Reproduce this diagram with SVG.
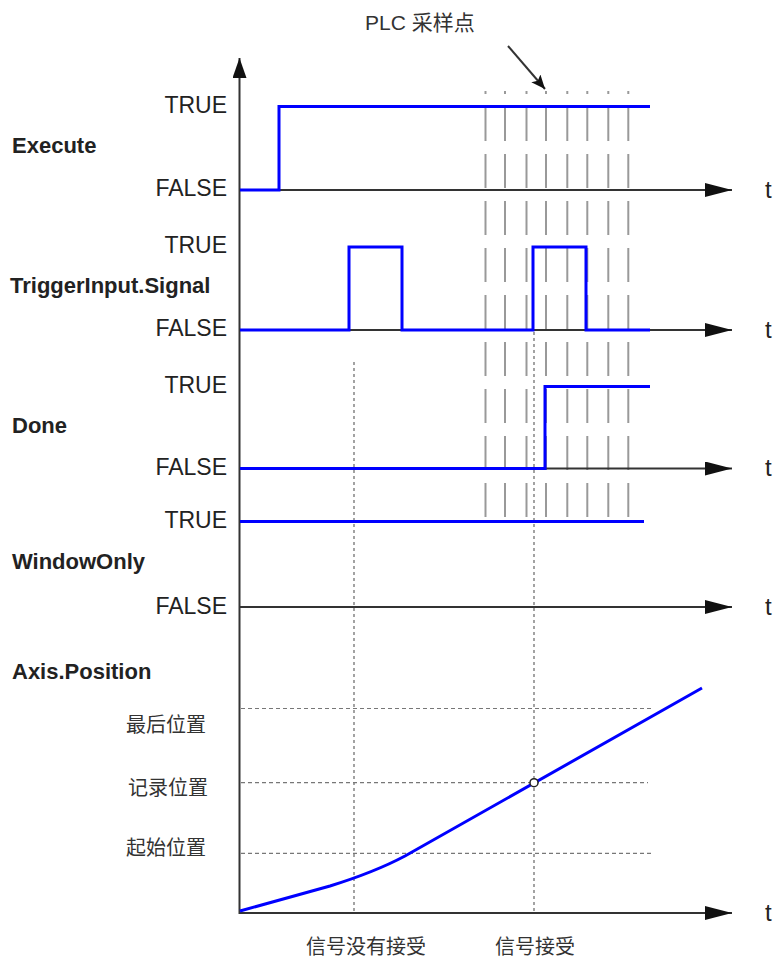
<svg xmlns="http://www.w3.org/2000/svg" width="776" height="960" viewBox="0 0 776 960">
<defs>
<marker id="ah" viewBox="0 0 27 14" refX="27" refY="7" markerWidth="27" markerHeight="14" markerUnits="userSpaceOnUse" orient="auto">
<path d="M0,0 L27,7 L0,14 Z" fill="#111"/>
</marker>
<marker id="ahv" viewBox="0 0 14 20" refX="7" refY="0" markerWidth="14" markerHeight="20" markerUnits="userSpaceOnUse" orient="0">
<path d="M7,0 L14,20 L0,20 Z" fill="#111"/>
</marker>
<marker id="ahs" viewBox="0 0 14 12" refX="14" refY="6" markerWidth="14" markerHeight="12" markerUnits="userSpaceOnUse" orient="auto">
<path d="M0,0 L14,6 L0,12 L3,6 Z" fill="#111"/>
</marker>
</defs>
<style>
.lv{font-family:"Liberation Sans",Arial,sans-serif;font-size:23px;fill:#222;text-anchor:end}
.nm{font-family:"Liberation Sans",Arial,sans-serif;font-size:22px;font-weight:bold;fill:#222}
.t{font-family:"Liberation Sans",Arial,sans-serif;font-size:24px;fill:#222}
.cj{font-family:"Liberation Sans","Noto Sans CJK SC",sans-serif;font-size:20px;fill:#333}
.ax{stroke:#333;stroke-width:2;fill:none}
.sig{stroke:#0000ff;stroke-width:3;fill:none;stroke-linejoin:miter}
.smp{stroke:#999;stroke-width:2;stroke-dasharray:34 13}
.dot{stroke:#999;stroke-width:2}
.vd{stroke:#666;stroke-width:1.2;stroke-dasharray:3 3}
.hd{stroke:#777;stroke-width:1.2;stroke-dasharray:4 3}
</style>
<rect width="776" height="960" fill="#fff"/>

<g id="plc-label">
<text x="365" y="30" font-family="Liberation Sans,'Noto Sans CJK SC',sans-serif" font-size="21" fill="#333">PLC 采样点</text>
</g>

<g id="sampling-points">
<g class="dot">
<line x1="485.5" y1="91" x2="485.5" y2="94"/><line x1="505" y1="91" x2="505" y2="94"/><line x1="526.5" y1="91" x2="526.5" y2="94"/><line x1="546" y1="91" x2="546" y2="94"/><line x1="567.3" y1="91" x2="567.3" y2="94"/><line x1="587.3" y1="91" x2="587.3" y2="94"/><line x1="608.3" y1="91" x2="608.3" y2="94"/><line x1="628.3" y1="91" x2="628.3" y2="94"/>
</g>
<g class="smp">
<line x1="485.5" y1="107" x2="485.5" y2="518"/><line x1="505" y1="107" x2="505" y2="518"/><line x1="526.5" y1="107" x2="526.5" y2="518"/><line x1="546" y1="107" x2="546" y2="518"/><line x1="567.3" y1="107" x2="567.3" y2="518"/><line x1="587.3" y1="107" x2="587.3" y2="518"/><line x1="608.3" y1="107" x2="608.3" y2="518"/><line x1="628.3" y1="107" x2="628.3" y2="518"/>
</g>
</g>

<g id="guides">
<line class="vd" x1="354" y1="362" x2="354" y2="912"/>
<line class="vd" x1="534" y1="332" x2="534" y2="912"/>
<line class="hd" x1="241" y1="708.5" x2="652" y2="708.5"/>
<line class="hd" x1="241" y1="782.7" x2="648" y2="782.7"/>
<line class="hd" x1="241" y1="853.3" x2="652" y2="853.3"/>
</g>

<g id="connectors">
<line class="ax" x1="239.5" y1="914" x2="239.5" y2="58" marker-end="url(#ahv)"/>
<line class="ax" x1="240" y1="190" x2="732" y2="190" marker-end="url(#ah)"/>
<line class="ax" x1="240" y1="330" x2="732" y2="330" marker-end="url(#ah)"/>
<line class="ax" x1="240" y1="468.5" x2="732" y2="468.5" marker-end="url(#ah)"/>
<line class="ax" x1="240" y1="607" x2="732" y2="607" marker-end="url(#ah)"/>
<line class="ax" x1="240" y1="913" x2="732" y2="913" marker-end="url(#ah)"/>
<line x1="508" y1="46" x2="545" y2="89" stroke="#333" stroke-width="2" marker-end="url(#ahs)"/>
</g>

<g id="execute">
<text class="nm" x="12" y="153">Execute</text>
<text class="lv" x="227" y="113">TRUE</text>
<text class="lv" x="227" y="196">FALSE</text>
<polyline class="sig" points="240,190 279,190 279,106.5 650,106.5"/>
<text class="t" x="765" y="198">t</text>
</g>

<g id="trigger">
<text class="nm" x="10" y="293">TriggerInput.Signal</text>
<text class="lv" x="227" y="253">TRUE</text>
<text class="lv" x="227" y="336">FALSE</text>
<polyline class="sig" points="240,330 349,330 349,247 402,247 402,330 533,330 533,247 586,247 586,330 650,330"/>
<text class="t" x="765" y="338">t</text>
</g>

<g id="done">
<text class="nm" x="12" y="433">Done</text>
<text class="lv" x="227" y="393">TRUE</text>
<text class="lv" x="227" y="475">FALSE</text>
<polyline class="sig" points="240,468.5 545,468.5 545,386.5 650,386.5"/>
<text class="t" x="765" y="476">t</text>
</g>

<g id="windowonly">
<text class="nm" x="12" y="569">WindowOnly</text>
<text class="lv" x="227" y="528">TRUE</text>
<text class="lv" x="227" y="614">FALSE</text>
<line class="sig" x1="240" y1="521.5" x2="644" y2="521.5"/>
<text class="t" x="765" y="615">t</text>
</g>

<g id="axis-position">
<text class="nm" x="12" y="679">Axis.Position</text>
<text class="cj" x="206" y="732" text-anchor="end">最后位置</text>
<text class="cj" x="208" y="795" text-anchor="end">记录位置</text>
<text class="cj" x="206" y="855" text-anchor="end">起始位置</text>
<path class="sig" d="M240,911 L330,886 Q375,872 405,856 L702,688"/>
<circle cx="534" cy="782.7" r="4" fill="#fff" stroke="#222" stroke-width="1.5"/>
<text class="t" x="765" y="921">t</text>
<text class="cj" x="366" y="954" text-anchor="middle">信号没有接受</text>
<text class="cj" x="535" y="954" text-anchor="middle">信号接受</text>
</g>
</svg>
